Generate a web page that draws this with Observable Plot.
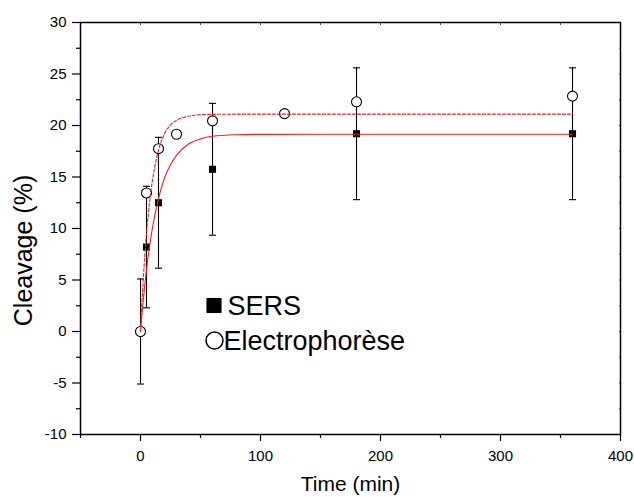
<!DOCTYPE html>
<html><head><meta charset="utf-8">
<script src="https://cdn.jsdelivr.net/npm/d3@7"></script>
<script src="https://cdn.jsdelivr.net/npm/@observablehq/plot@0.6"></script>
<style>body{margin:0;background:#fff}</style>
</head><body><div id="chart"></div>
<script>
// SERS measurements (filled squares) with error bars
const sersTimes = [0, 5, 15, 60, 180, 360];
const sersValues = [0, 8.2, 12.5, 15.75, 19.2, 19.2];
const sersErrors = [5.1, 5.9, 6.35, 6.4, 6.4, 6.4];
// Electrophorèse measurements (open circles)
const electroTimes = [0, 5, 15, 30, 60, 120, 180, 360];
const electroValues = [0, 13.45, 17.75, 19.15, 20.45, 21.15, 22.3, 22.85];
// Fitted curves
const fitTimes = [0, 2, 5, 8, 10, 15, 20, 25, 30, 40, 50, 60, 80, 100, 150, 200, 300, 360];
const sersFit = [0, 2.7, 6.0, 8.6, 10.1, 12.9, 14.9, 16.2, 17.1, 18.2, 18.7, 18.95, 19.1, 19.14, 19.15, 19.15, 19.15, 19.15];
const electroFit = [0, 4.5, 9.5, 13.0, 14.7, 17.6, 19.2, 20.05, 20.5, 20.9, 21.05, 21.08, 21.1, 21.1, 21.1, 21.1, 21.1, 21.1];
// Axis ticks
const xTicks = [0, 100, 200, 300, 400];
const xMinorTicks = [-50, 50, 150, 250, 350];
const yTicks = [-10, -5, 0, 5, 10, 15, 20, 25, 30];
const yMinorTicks = [-7.5, -2.5, 2.5, 7.5, 12.5, 17.5, 22.5, 27.5];
const legendLabels = ["SERS", "Electrophorèse"];
const xTitle = "Time (min)";
const yTitle = "Cleavage (%)";

const capSymbol = {
  draw(ctx, size) {
    const r = Math.sqrt(size / Math.PI);
    ctx.moveTo(-r, 0);
    ctx.lineTo(r, 0);
  }
};
const lo = (d, i) => sersValues[i] - sersErrors[i];
const hi = (d, i) => sersValues[i] + sersErrors[i];

const chart = Plot.plot({
  width: 634,
  height: 497,
  marginLeft: 80,
  marginRight: 14,
  marginTop: 22,
  marginBottom: 63,
  x: {domain: [-50, 400]},
  y: {domain: [-10, 30]},
  style: {fontFamily: "'Liberation Sans', Arial, sans-serif", fontSize: "15px", color: "black", background: "white"},
  marks: [
    // axes
    Plot.axisX(xTicks, {anchor: "bottom", tickSize: 7, tickPadding: 9, fontSize: 15, strokeWidth: 1.2, label: null, tickFormat: d => String(d)}),
    Plot.axisX(xMinorTicks, {anchor: "bottom", tickSize: 4, strokeWidth: 1.2, label: null, tickFormat: () => ""}),
    Plot.axisY(yTicks, {anchor: "left", tickSize: 8, tickPadding: 6, fontSize: 15, strokeWidth: 1.2, label: null, tickFormat: d => String(d)}),
    Plot.axisY(yMinorTicks, {anchor: "left", tickSize: 4, strokeWidth: 1.2, label: null, tickFormat: () => ""}),
    Plot.axisX([...xMinorTicks, ...xTicks], {anchor: "top", tickSize: 2, dy: 2, strokeWidth: 1, stroke: "#555", label: null, tickFormat: () => ""}),
    Plot.axisY([...yMinorTicks, ...yTicks], {anchor: "right", tickSize: 2, dx: -2, strokeWidth: 1, stroke: "#555", label: null, tickFormat: () => ""}),
    Plot.frame({stroke: "black", strokeWidth: 1.5}),
    // error bars
    Plot.ruleX(sersTimes, {x: d => d, y1: lo, y2: hi, stroke: "black", strokeWidth: 1.1}),
    Plot.dot(sersTimes, {x: d => d, y: lo, symbol: capSymbol, r: 3.5, fill: "none", stroke: "black", strokeWidth: 1.1}),
    Plot.dot(sersTimes, {x: d => d, y: hi, symbol: capSymbol, r: 3.5, fill: "none", stroke: "black", strokeWidth: 1.1}),
    // SERS squares
    Plot.dot(sersTimes, {x: d => d, y: (d, i) => sersValues[i], symbol: "square", r: 4, fill: "black", stroke: "none"}),
    // Electrophorèse circles
    Plot.dot(electroTimes, {x: d => d, y: (d, i) => electroValues[i], r: 5, fill: "white", stroke: "black", strokeWidth: 1.1}),
    // fit curves
    Plot.line(fitTimes, {x: d => d, y: (d, i) => sersFit[i], stroke: "#ff1a1a", strokeWidth: 1.1, curve: "monotone-x"}),
    Plot.line(fitTimes, {x: d => d, y: (d, i) => electroFit[i], stroke: "#ff1a1a", strokeWidth: 1.1, strokeDasharray: "3,2", curve: "monotone-x"}),
    // legend
    Plot.dot([legendLabels[0]], {frameAnchor: "top-left", dx: 133.5, dy: 283, symbol: "square", r: 8.5, fill: "black", stroke: "none"}),
    Plot.text([legendLabels[0]], {frameAnchor: "top-left", dx: 147, dy: 284, text: d => d, textAnchor: "start", lineAnchor: "middle", fontSize: 27, fill: "black"}),
    Plot.dot([legendLabels[1]], {frameAnchor: "top-left", dx: 134, dy: 318, r: 8.5, fill: "none", stroke: "black", strokeWidth: 1.5}),
    Plot.text([legendLabels[1]], {frameAnchor: "top-left", dx: 143, dy: 319, text: d => d, textAnchor: "start", lineAnchor: "middle", fontSize: 27, fill: "black"}),
    // axis titles
    Plot.text([xTitle], {frameAnchor: "bottom", dy: 50, text: d => d, textAnchor: "middle", lineAnchor: "middle", fontSize: 21, fill: "black"}),
    Plot.text([yTitle], {frameAnchor: "left", dx: -56.5, dy: 22, rotate: -90, text: d => d, textAnchor: "middle", lineAnchor: "middle", fontSize: 25, fill: "black"})
  ]
});
document.getElementById("chart").appendChild(chart);
</script>
</body></html>
